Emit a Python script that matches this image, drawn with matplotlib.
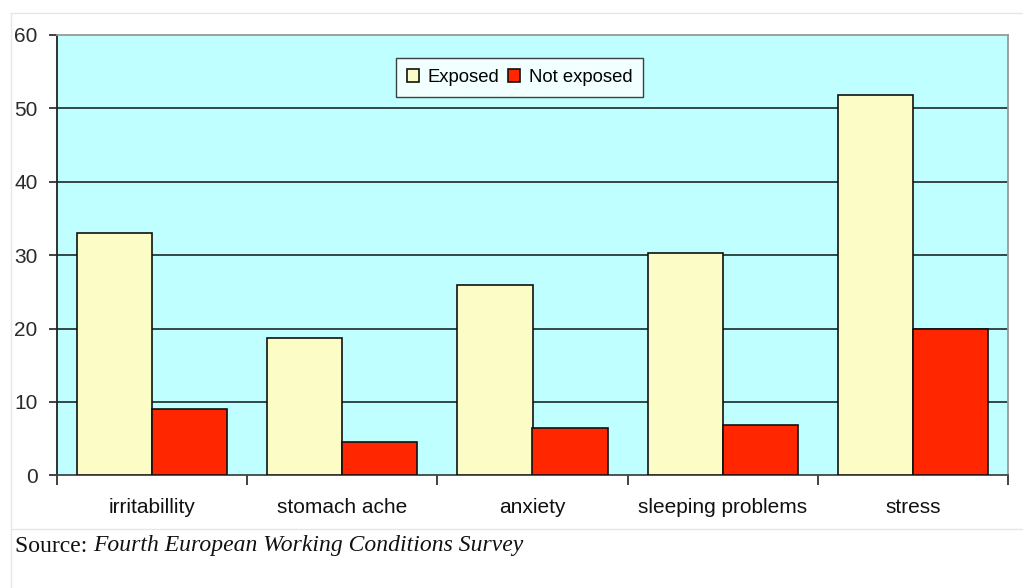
import numpy as np
import matplotlib
matplotlib.use("Agg")
import matplotlib.pyplot as plt
from matplotlib.lines import Line2D

categories = ["irritabillity", "stomach ache", "anxiety", "sleeping problems", "stress"]
exposed = [33.0, 18.7, 26.0, 30.3, 51.8]
not_exposed = [9.1, 4.6, 6.4, 6.8, 19.9]
series_names = ["Exposed", "Not exposed"]
y_ticks = [0, 10, 20, 30, 40, 50, 60]

W, H = 1023, 588
fig = plt.figure(figsize=(W / 100, H / 100), dpi=100)
fig.patch.set_facecolor("white")

left, right, top, bottom = 57, 1008, 35, 475.3
ax = fig.add_axes([left / W, (H - bottom) / H, (right - left) / W, (bottom - top) / H])
ax.set_facecolor("#BFFFFF")

x = np.arange(len(categories))
w = 0.395
ax.bar(x - w / 2, exposed, width=w, color="#FCFCC6", edgecolor="#111111",
       linewidth=1.2, zorder=3, label=series_names[0])
ax.bar(x + w / 2, not_exposed, width=w, color="#FF2600", edgecolor="#111111",
       linewidth=1.2, zorder=3, label=series_names[1])

ax.set_xlim(-0.5, len(categories) - 0.5)
ax.set_ylim(0, 60)

# horizontal gridlines
for v in y_ticks[1:-1]:
    ax.axhline(v, color="#2a3838", linewidth=1.3, zorder=1)

ax.set_yticks(y_ticks)
ax.set_yticklabels([str(v) for v in y_ticks])
ax.tick_params(axis="y", length=6, width=1.2, color="#222222", pad=8,
               labelsize=15, labelcolor="#2a2a2a")
for lab in ax.get_yticklabels():
    lab.set_fontfamily("Liberation Sans")

ax.set_xticks(x)
ax.set_xticklabels(categories, fontfamily="Liberation Sans", fontsize=15, color="#111111")
ax.tick_params(axis="x", which="major", length=0, pad=16)
ax.set_xticks(np.arange(-0.5, len(categories)), minor=True)
ax.tick_params(axis="x", which="minor", length=7, width=1.2, color="#222222")

ax.spines["left"].set_color("#222222")
ax.spines["left"].set_linewidth(1.3)
ax.spines["bottom"].set_color("#444444")
ax.spines["bottom"].set_linewidth(1.3)
ax.spines["top"].set_color("#999999")
ax.spines["top"].set_linewidth(1.3)
ax.spines["right"].set_color("#999999")
ax.spines["right"].set_linewidth(1.3)

leg = ax.legend(loc="upper center", bbox_to_anchor=(0.4865, 0.948), ncol=2,
                frameon=True, fancybox=False, edgecolor="#111111",
                prop={"family": "Liberation Sans", "size": 13.3},
                handlelength=0.65, handleheight=0.65, handletextpad=0.45,
                columnspacing=0.5, borderpad=0.6, borderaxespad=0)
leg.get_frame().set_linewidth(1.0)
leg.get_frame().set_facecolor("white")
leg.set_zorder(5)

# outer chart frame
frame_color = "#e6e6e6"
fig.add_artist(Line2D([11 / W, 1], [1 - 13 / H, 1 - 13 / H], color=frame_color, lw=1))
fig.add_artist(Line2D([11 / W, 1], [1 - 529 / H, 1 - 529 / H], color=frame_color, lw=1))
fig.add_artist(Line2D([11 / W, 11 / W], [0, 1 - 13 / H], color=frame_color, lw=1))

# source line
fig.text(15 / W, 1 - 546 / H, "Source: ", fontfamily="Liberation Serif", fontsize=17,
         va="center", ha="left", color="#111111")
fig.text(93 / W, 1 - 546 / H, "Fourth European Working Conditions Survey",
         fontfamily="Liberation Serif", fontstyle="italic", fontsize=17,
         va="center", ha="left", color="#111111")

fig.savefig("out.png", dpi=100)
